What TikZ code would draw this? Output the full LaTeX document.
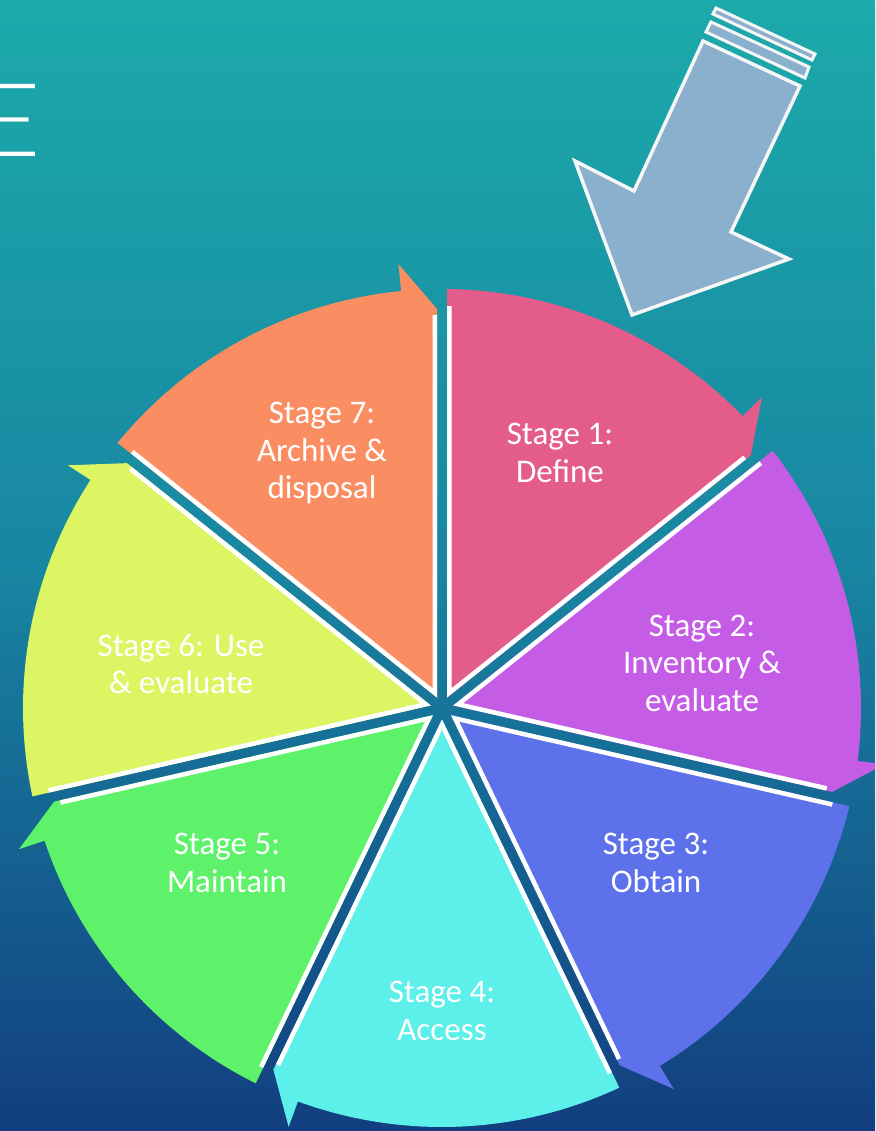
\documentclass[tikz,border=0pt]{standalone}
\usepackage{fontspec}
\setmainfont{Carlito}
\newfontfamily\titlefont{Lato Light}
\usepackage{tikz}

\definecolor{bgtop}{RGB}{28,170,170}
\definecolor{bgmid}{RGB}{24,134,162}
\definecolor{bgbot}{RGB}{18,62,128}
\definecolor{stagepink}{RGB}{227,92,138}
\definecolor{stagepurple}{RGB}{197,92,230}
\definecolor{stageblue}{RGB}{93,114,234}
\definecolor{stagecyan}{RGB}{93,240,234}
\definecolor{stagegreen}{RGB}{94,242,106}
\definecolor{stagelime}{RGB}{220,245,99}
\definecolor{stageorange}{RGB}{250,141,98}
\definecolor{pointerfill}{RGB}{138,176,206}

\begin{document}
\begin{tikzpicture}[x=1pt, y=1pt, every node/.style={font=\fontsize{33}{37.5}\selectfont}]

	% Canvas in pixel units, background gradient
	\clip (0,0) rectangle (875,-1131);
	\shade[top color=bgtop, bottom color=bgbot, middle color=bgmid] (0,0) rectangle (875,-1131);

	% Styles for the wedges and their labels
	\tikzset{
		stagelabel/.style={text=white, align=center, inner sep=0pt},
		pointer/.style={fill=pointerfill, draw=white!93!gray, line width=3.5pt, line join=miter},
		pics/stagewedge/.style 2 args={code={
			\pgfmathsetmacro\stA{#1}
			\pgfmathsetmacro\stB{#1-360/7}
			\pgfmathsetmacro\stD{asin(5/419)}
			\pgfmathsetmacro\stM{#1-180/7}
			\fill[#2] ({\stA-\stD}:419) arc[start angle=\stA-\stD, end angle=\stB+5.6, radius=419]
				-- ({\stB+5.6}:446)
				-- ({399*cos(\stB)-5*sin(\stB)},{399*sin(\stB)+5*cos(\stB)})
				-- (\stM:{5/sin(180/7)}) -- cycle;
			\draw[white, line width=4.5pt, line join=miter]
				({402*cos(\stA)+7.25*sin(\stA)},{402*sin(\stA)-7.25*cos(\stA)})
				-- (\stM:{7.25/sin(180/7)})
				-- ({393*cos(\stB)-7.25*sin(\stB)},{393*sin(\stB)+7.25*cos(\stB)});
		}}
	};

	% Last letter of the slide title, cut by the left edge
	\node[font=\titlefont\fontsize{102}{102}\selectfont, text=white, anchor=base east, inner sep=0pt] (title) at (41,-157) {E};

	% Stage 1 (pink): Define
	\pic at (442,-708) {stagewedge={90}{stagepink}};
	\node[stagelabel] (stage1) at (560,-453) {Stage 1:\\Define};

	% Stage 2 (purple): Inventory & evaluate
	\pic at (442,-708) {stagewedge={38.5714}{stagepurple}};
	\node[stagelabel] (stage2) at (702,-663) {Stage 2:\\Inventory \&\\evaluate};

	% Stage 3 (blue): Obtain
	\pic at (442,-708) {stagewedge={-12.8571}{stageblue}};
	\node[stagelabel] (stage3) at (656,-863) {Stage 3:\\Obtain};

	% Stage 4 (cyan): Access
	\pic at (442,-708) {stagewedge={-64.2857}{stagecyan}};
	\node[stagelabel] (stage4) at (442,-1011) {Stage 4:\\Access};

	% Stage 5 (green): Maintain
	\pic at (442,-708) {stagewedge={-115.7143}{stagegreen}};
	\node[stagelabel] (stage5) at (227,-863) {Stage 5:\\Maintain};

	% Stage 6 (lime): Use & evaluate
	\pic at (442,-708) {stagewedge={-167.1429}{stagelime}};
	\node[stagelabel] (stage6) at (181,-664) {Stage 6: Use\\\& evaluate};

	% Stage 7 (orange): Archive & disposal
	\pic at (442,-708) {stagewedge={141.4286}{stageorange}};
	\node[stagelabel] (stage7) at (322,-453) {Stage 7:\\Archive \&\\disposal};

	% Big pointer coming in at the top right
	\filldraw[pointer, line width=3pt] (716,-8) -- (815,-54) -- (812,-60) -- (713,-14) -- cycle;
	\filldraw[pointer, line width=3pt] (711,-22) -- (809,-67) -- (805,-78) -- (706,-32) -- cycle;
	\filldraw[pointer] (703,-41) -- (634,-191) -- (575,-161) -- (632,-315)
		-- (789,-259) -- (731,-232) -- (800,-86) -- cycle;

\end{tikzpicture}
\end{document}
